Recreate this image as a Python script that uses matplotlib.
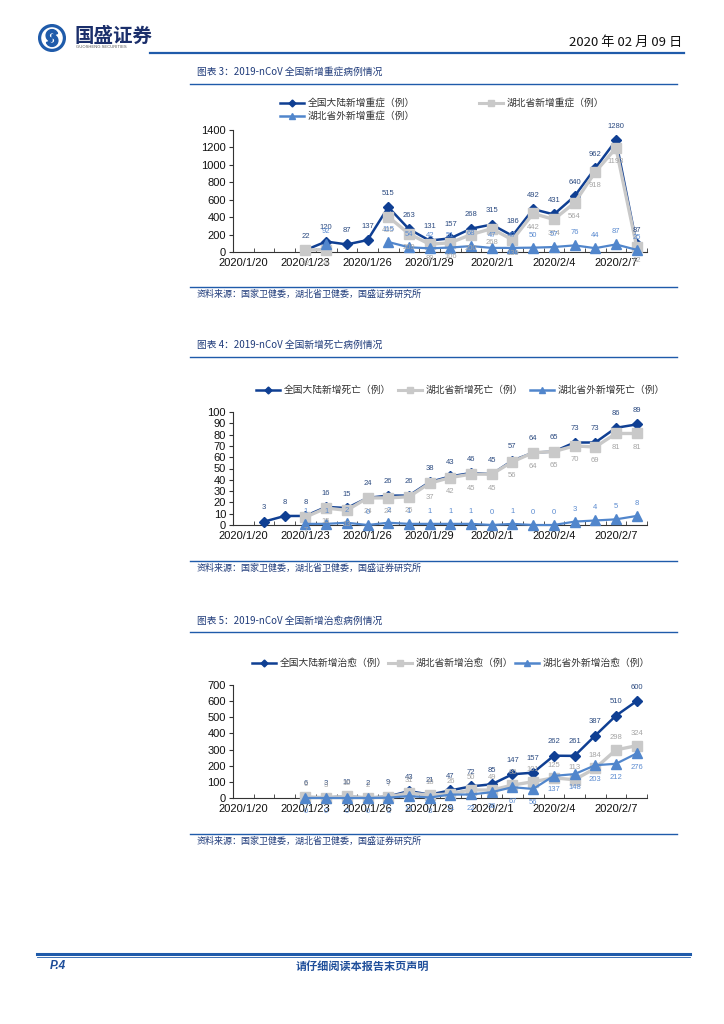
import matplotlib
matplotlib.use('Agg')
import matplotlib.pyplot as plt
from matplotlib.lines import Line2D
from matplotlib.patches import Circle, Wedge
import numpy as np

plt.rcParams['font.family'] = ['Noto Sans CJK SC', 'DejaVu Sans']

nan = np.nan
# x = 天数, 0 = 2020/1/20
tick_pos = [0, 3, 6, 9, 12, 15, 18]
tick_labels = ['2020/1/20', '2020/1/23', '2020/1/26', '2020/1/29', '2020/2/1', '2020/2/4', '2020/2/7']

# 图表3 新增重症 (1/23 - 2/8)
severe_x = list(range(3, 20))
severe_all = [22, 120, 87, 137, 515, 263, 131, 157, 268, 315, 186, 492, 431, 640, 962, 1280, 87]
severe_hubei = [22, 28, nan, nan, 405, 209, 89, 106, 200, 268, 139, 442, 374, 564, 918, 1193, 62]
severe_out = [nan, 92, nan, nan, 115, 54, 42, 51, 68, 47, 47, 50, 57, 76, 44, 87, 25]

# 图表4 新增死亡
death_all_x = list(range(1, 20))
death_all = [3, 8, 8, 16, 15, 24, 26, 26, 38, 43, 46, 45, 57, 64, 65, 73, 73, 86, 89]
death_x = list(range(3, 20))
death_hubei = [7, 15, 13, 24, 24, 25, 37, 42, 45, 45, 56, 64, 65, 70, 69, 81, 81]
death_out = [1, 1, 2, 0, 2, 1, 1, 1, 1, 0, 1, 0, 0, 3, 4, 5, 8]

# 图表5 新增治愈
cure_x = list(range(3, 20))
cure_all = [6, 3, 10, 2, 9, 43, 21, 47, 72, 85, 147, 157, 262, 261, 387, 510, 600]
cure_hubei = [6, 3, 10, 2, 7, 31, 18, 26, 50, 49, 80, 101, 125, 113, 184, 298, 324]
cure_out = [0, 0, 0, 0, 2, 12, 3, 21, 22, 36, 67, 56, 137, 148, 203, 212, 276]

C_ALL = '#0F3F93'
C_HB = '#C9C9C9'
C_OUT = '#5186CC'
L_ALL = '#2B4A80'
L_HB = '#A5A5A5'
L_OUT = '#5B8BD0'
NAVY = '#1F3B7A'
NUM = 'Liberation Sans'

W, H = 724, 1024
fig = plt.figure(figsize=(W / 100, H / 100), dpi=100)


def fx(x):
    return x / W


def fy(y):
    return 1 - y / H


def hline(x0, x1, y, lw=1.0, color='#1F5BAA'):
    fig.add_artist(Line2D([fx(x0), fx(x1)], [fy(y), fy(y)], color=color, lw=lw))


# 页眉
logo = fig.add_axes([fx(38), fy(52), fx(28), 28 / H])
logo.set_xlim(-1, 1)
logo.set_ylim(-1, 1)
logo.set_aspect('equal')
logo.axis('off')
logo.add_patch(Circle((0, 0), 0.95, color='#1F5BAA'))
logo.add_patch(Circle((0, 0), 0.72, color='white'))
logo.add_patch(Wedge((0, 0.18), 0.42, 20, 270, width=0.22, color='#1F5BAA'))
logo.add_patch(Wedge((0, -0.18), 0.42, 200, 90, width=0.22, color='#1F5BAA'))
fig.text(fx(75), fy(36), '国盛证券', fontsize=14, fontweight='bold', color='#1B2F6B', va='center')
fig.text(fx(76), fy(47), 'GUOSHENG SECURITIES', fontsize=3, color='#555555', va='center', family=NUM)
fig.text(fx(682), fy(42), '2020 年 02 月 09 日', fontsize=9.5, color='#111111', ha='right', va='center')
hline(150, 684, 53, lw=1.6)

# 页脚
hline(37, 690, 954, lw=2.2)
hline(37, 690, 957, lw=0.6)
fig.text(fx(50), fy(966), 'P.4', fontsize=8.5, fontweight='bold', style='italic', color='#1F4E9A', va='center', family=NUM)
fig.text(fx(362), fy(966), '请仔细阅读本报告末页声明', fontsize=8, fontweight='bold', color='#1F4E9A', ha='center', va='center')

source = '资料来源：国家卫健委，湖北省卫健委，国盛证券研究所'


def frame(title, y_title, y_line, y_src_line):
    fig.text(fx(197), fy(y_title), title, fontsize=7, color=NAVY, va='center', style='italic')
    hline(190, 677, y_line, lw=1.0)
    hline(190, 677, y_src_line, lw=1.0)
    fig.text(fx(197), fy(y_src_line + 7), source, fontsize=6.5, color=NAVY, va='center', style='italic')


def legend_item(x, y, color, marker, ms, text, lw):
    fig.add_artist(Line2D([fx(x), fx(x + 24)], [fy(y), fy(y)], color=color, lw=lw))
    fig.add_artist(Line2D([fx(x + 12)], [fy(y)], color=color, marker=marker, markersize=ms, lw=0))
    fig.text(fx(x + 28), fy(y), text, fontsize=7, color='#333333', va='center')


def panel(top, bottom, ymax, ystep, series):
    ax = fig.add_axes([fx(233), fy(bottom), fx(647 - 233), (bottom - top) / H])
    for xs, ys, color, marker, ms, lw, lc, off, z in series:
        ax.plot(xs, ys, color=color, lw=lw, marker=marker, markersize=ms, zorder=z,
                markerfacecolor=color, markeredgecolor=color, clip_on=False)
        for x, v in zip(xs, ys):
            if np.isnan(v):
                continue
            ax.annotate('%d' % v, (x, v), xytext=(0, off), textcoords='offset points',
                        ha='center', va='center', fontsize=5.5, color=lc, family=NUM, zorder=6)
    ax.set_xlim(-0.5, 19.5)
    ax.set_ylim(0, ymax)
    ax.set_yticks(np.arange(0, ymax + 1, ystep))
    ax.set_xticks(tick_pos)
    ax.set_xticklabels(tick_labels)
    ax.set_xticks(np.arange(-0.5, 20, 1), minor=True)
    ax.tick_params(axis='x', which='major', length=0, pad=4)
    ax.tick_params(axis='x', which='minor', length=3, direction='in', color='#333333')
    ax.tick_params(axis='y', length=3, direction='out', color='#333333', pad=2)
    for lab in ax.get_xticklabels() + ax.get_yticklabels():
        lab.set_family(NUM)
        lab.set_fontsize(8)
        lab.set_color('#111111')
    for s in ['top', 'right']:
        ax.spines[s].set_visible(False)
    ax.spines['left'].set_color('#333333')
    ax.spines['bottom'].set_color('#333333')
    ax.spines['left'].set_linewidth(0.8)
    ax.spines['bottom'].set_linewidth(0.8)
    ax.patch.set_alpha(0)
    return ax


# 图表3
frame('图表 3：2019-nCoV 全国新增重症病例情况', 72, 84, 287)
legend_item(280, 103, C_ALL, 'D', 3.5, '全国大陆新增重症（例）', 1.8)
legend_item(479, 103, C_HB, 's', 4.5, '湖北省新增重症（例）', 2.2)
legend_item(280, 116, C_OUT, '^', 4.5, '湖北省外新增重症（例）', 1.8)
panel(130, 252, 1400, 200, [
    (severe_x, severe_all, C_ALL, 'D', 5, 1.8, L_ALL, 10, 3),
    (severe_x, severe_hubei, C_HB, 's', 6.5, 2.4, L_HB, -10, 4),
    (severe_x, severe_out, C_OUT, '^', 6.5, 1.6, L_OUT, 9, 5),
])

# 图表4
frame('图表 4：2019-nCoV 全国新增死亡病例情况', 345, 357, 561)
legend_item(256, 390, C_ALL, 'D', 3.5, '全国大陆新增死亡（例）', 1.8)
legend_item(398, 390, C_HB, 's', 4.5, '湖北省新增死亡（例）', 2.2)
legend_item(530, 390, C_OUT, '^', 4.5, '湖北省外新增死亡（例）', 1.8)
panel(412, 525, 100, 10, [
    (death_all_x, death_all, C_ALL, 'D', 5, 1.8, L_ALL, 10, 3),
    (death_x, death_hubei, C_HB, 's', 6.5, 2.4, L_HB, -10, 4),
    (death_x, death_out, C_OUT, '^', 6.5, 1.6, L_OUT, 9, 5),
])

# 图表5
frame('图表 5：2019-nCoV 全国新增治愈病例情况', 621, 632, 834)
legend_item(252, 663, C_ALL, 'D', 3.5, '全国大陆新增治愈（例）', 1.8)
legend_item(388, 663, C_HB, 's', 4.5, '湖北省新增治愈（例）', 2.2)
legend_item(515, 663, C_OUT, '^', 4.5, '湖北省外新增治愈（例）', 1.8)
panel(685, 798, 700, 100, [
    (cure_x, cure_all, C_ALL, 'D', 5, 1.8, L_ALL, 10, 3),
    (cure_x, cure_hubei, C_HB, 's', 6.5, 2.4, L_HB, 9, 4),
    (cure_x, cure_out, C_OUT, '^', 6.5, 1.6, L_OUT, -10, 5),
])

fig.savefig('out.png', dpi=100)
